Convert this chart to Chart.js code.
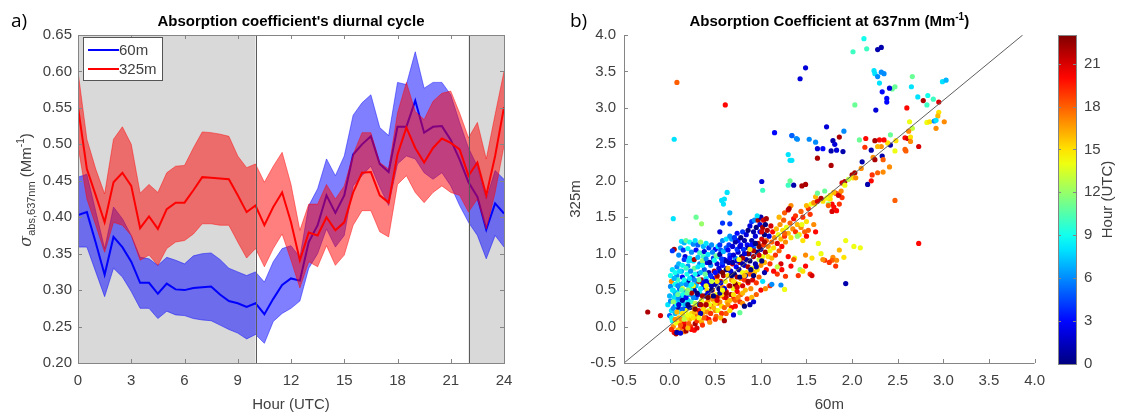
<!DOCTYPE html>
<html>
<head>
<meta charset="utf-8">
<script src="https://cdn.jsdelivr.net/npm/chart.js@4.4.1/dist/chart.umd.min.js"></script>
<style>
  body { margin: 0; background: #fff; }
  #wrap { position: relative; width: 1121px; height: 417px; overflow: hidden; }
  canvas { position: absolute; top: 0; }
</style>
</head>
<body>
<div id="wrap">
  <canvas id="diurnal" width="545" height="417" style="left:0"></canvas>
  <canvas id="scatter" width="494" height="417" style="left:560px"></canvas>
  <canvas id="cbar" width="81" height="417" style="left:1040px"></canvas>
</div>
<script>
// ---- panel a) diurnal cycle, half-hourly ----
const hours = [0,0.5,1,1.5,2,2.5,3,3.5,4,4.5,5,5.5,6,6.5,7,7.5,8,8.5,9,9.5,10,10.5,11,11.5,12,
  12.5,13,13.5,14,14.5,15,15.5,16,16.5,17,17.5,18,18.5,19,19.5,20,20.5,21,21.5,22,22.5,23,23.5,24];

const mean60 = [0.403,0.407,0.365,0.321,0.373,0.359,0.339,0.310,0.310,0.295,0.309,0.301,0.300,0.303,0.304,0.305,
  0.294,0.285,0.282,0.277,0.282,0.267,0.288,0.307,0.316,0.313,0.366,0.389,0.430,0.406,0.430,0.486,0.500,0.511,
  0.473,0.462,0.524,0.524,0.560,0.516,0.524,0.525,0.506,0.479,0.448,0.428,0.383,0.419,0.405];
const upper60 = [0.455,0.459,0.408,0.357,0.414,0.398,0.375,0.345,0.343,0.334,0.345,0.341,0.336,0.347,0.350,0.351,
  0.342,0.330,0.325,0.320,0.325,0.311,0.339,0.357,0.361,0.345,0.416,0.439,0.480,0.457,0.484,0.540,0.557,0.568,
  0.523,0.512,0.585,0.582,0.627,0.577,0.585,0.585,0.568,0.530,0.495,0.470,0.425,0.464,0.452];
const lower60 = [0.359,0.359,0.325,0.291,0.330,0.318,0.298,0.275,0.275,0.261,0.271,0.266,0.265,0.261,0.259,0.258,
  0.252,0.246,0.241,0.233,0.239,0.227,0.257,0.268,0.275,0.285,0.330,0.350,0.384,0.359,0.375,0.443,0.457,0.470,
  0.441,0.416,0.473,0.484,0.480,0.461,0.452,0.461,0.443,0.416,0.393,0.375,0.343,0.375,0.359];

const mean325 = [0.551,0.466,0.430,0.393,0.448,0.461,0.443,0.385,0.401,0.384,0.411,0.420,0.420,0.437,0.455,0.454,
  0.453,0.452,0.430,0.407,0.416,0.389,0.414,0.434,0.393,0.341,0.379,0.375,0.400,0.382,0.393,0.434,0.461,0.462,
  0.430,0.420,0.486,0.523,0.495,0.475,0.495,0.508,0.502,0.493,0.457,0.475,0.430,0.484,0.551];
const upper325 = [0.600,0.507,0.466,0.432,0.507,0.524,0.500,0.433,0.445,0.434,0.461,0.470,0.471,0.495,0.517,0.516,
  0.514,0.511,0.484,0.468,0.473,0.448,0.470,0.489,0.445,0.382,0.418,0.418,0.445,0.425,0.443,0.486,0.516,0.516,
  0.475,0.466,0.543,0.585,0.545,0.534,0.559,0.570,0.573,0.543,0.509,0.530,0.480,0.541,0.600];
const lower325 = [0.498,0.425,0.389,0.352,0.393,0.389,0.375,0.341,0.348,0.334,0.357,0.366,0.368,0.377,0.391,0.391,
  0.389,0.389,0.366,0.344,0.357,0.332,0.357,0.377,0.341,0.303,0.339,0.332,0.361,0.334,0.348,0.389,0.409,0.409,
  0.380,0.373,0.445,0.457,0.434,0.420,0.434,0.443,0.434,0.430,0.407,0.425,0.384,0.434,0.498];

// night shading (hours)
const shadeStart = [0, 22];
const shadeEnd = [10, 24];

// ---- panel b) scatter: [60m, 325m, hour] ----
const farPoints = [
  [-0.24,0.20,22],[-0.10,0.15,21],[0.08,3.35,18],[0.61,3.04,20],[0.05,2.57,8],[0.04,1.48,8],[0.05,1.06,22],
  [0.03,1.04,4],[0.29,1.50,11],[0.35,1.41,12],[0.63,1.84,8],[0.57,1.73,8],[0.60,1.75,8],[0.59,1.68,8],
  [0.66,1.56,7],[0.58,1.42,4],[0.66,1.41,4],[0.55,1.30,2],[0.71,1.22,4],[1.01,1.99,2],[1.02,1.87,10],
  [1.15,2.66,3],[1.43,3.40,2],[1.49,3.55,2],[1.34,2.62,6],[1.39,2.58,6],[1.53,2.57,6],[1.60,2.53,6],
  [1.30,2.36,8],[1.32,2.28,8],[1.34,2.28,8],[1.32,2.00,11],[1.36,1.94,1],[1.45,1.93,22],[1.49,1.95,22],
  [1.31,1.62,22],[1.62,1.83,11],[1.93,0.59,1],[1.26,0.51,14],[1.22,0.57,6],[1.40,2.57,6],[1.34,2.62,5],
  [2.13,3.95,9],[2.01,3.77,10],[2.16,3.81,10],[2.28,3.80,1],[2.32,3.83,1],[2.24,3.51,8],[2.25,3.47,8],
  [2.32,3.49,6],[2.35,3.47,6],[2.28,3.43,6],[2.30,3.34,8],[2.66,3.43,11],[2.65,3.29,8],[2.47,3.29,11],
  [2.44,3.26,11],[2.41,3.27,2],[2.33,3.22,3],[2.38,3.13,3],[2.38,3.08,3],[2.26,2.97,2],[2.03,3.04,11],
  [2.99,3.36,8],[3.03,3.38,7],[2.72,3.15,8],[2.83,3.17,9],[2.78,3.10,22],[2.89,3.12,10],[2.82,3.04,10],
  [2.95,3.08,21],[2.60,3.00,20],[2.73,1.14,20],[2.47,1.73,18],[1.72,2.74,2],[1.86,2.60,22],[1.91,2.68,6],
  [1.79,2.55,1],[1.81,2.50,2],[1.77,2.41,1],[1.83,2.42,2],[1.90,2.40,1],[1.62,2.44,2],[1.68,2.44,3],
  [1.62,2.31,22],[1.77,2.21,22]
];
const midPoints = [
  [2.95,2.94,15],[2.94,2.89,16],[2.82,2.80,14],[2.85,2.81,15],[2.90,2.82,6],[2.92,2.83,8],[3.01,2.81,17],
  [2.92,2.72,17],[2.63,2.81,14],[2.66,2.72,13],[2.62,2.68,17],[2.58,2.59,20],[2.61,2.58,21],[2.64,2.60,15],
  [2.64,2.54,17],[2.73,2.47,21],[2.58,2.43,18],[2.59,2.41,18],[2.42,2.63,11],[2.48,2.55,15],[2.42,2.49,1],
  [2.39,2.52,15],[2.35,2.56,20],[2.30,2.56,20],[2.25,2.55,22],[2.32,2.47,17],[2.28,2.47,16],[2.15,2.58,20],
  [2.08,2.56,11],[2.14,2.46,19],[2.21,2.42,1],[2.33,2.34,1],[2.47,2.41,14],[2.23,2.32,17],[2.25,2.29,22],
  [2.34,2.29,18],[2.11,2.26,1],[2.10,2.17,17],[2.22,2.08,19],[2.28,2.11,18],[2.34,2.12,17],[2.41,2.19,17],
  [2.03,2.11,22],[2.00,2.08,22],[2.01,2.04,15],[2.21,2.00,20],[2.17,1.95,1],[1.92,1.99,22],[1.89,1.97,21],
  [1.30,1.94,10],[1.59,1.68,14],[1.82,1.83,19],[1.86,1.82,18],[1.89,1.77,19],[1.78,1.68,20],[1.85,1.80,21],
  [1.76,1.75,15],[1.73,1.77,14],[1.83,1.59,20],[1.74,1.68,12],[1.68,1.72,15],[1.72,1.76,14],[1.76,1.80,15],
  [1.80,1.84,16],[1.88,1.86,17],[1.92,1.94,14],[1.96,2.02,13],[2.04,2.04,17],[1.74,1.66,18],[1.80,1.64,20],
  [1.86,1.68,19],[1.78,1.58,21],[1.70,1.86,11],
  [1.93,1.18,14],[2.02,1.10,14],[2.09,1.08,14],[1.86,1.05,16],[1.91,0.95,15],[1.79,0.95,17],[1.83,0.91,17],
  [1.78,0.91,18],[1.70,0.91,19],[1.75,0.88,19],[1.82,0.83,19],[1.66,1.00,14],[1.63,1.14,14],
  [1.18,0.72,19],[1.14,0.76,20],[1.23,0.78,20],[1.27,0.69,19],[1.33,0.83,20],[1.41,0.70,19],[1.37,0.94,14],
  [1.49,0.83,20],[1.54,0.72,19],[1.56,0.70,21],[1.49,0.98,17],[1.56,0.94,15],[1.43,0.78,12],[1.68,0.92,17],
  [1.26,1.28,18],[1.30,0.96,20],[1.36,0.92,18],[1.22,0.86,21],[1.18,0.82,13],[1.12,0.58,6],[1.46,0.76,15],
  [1.20,1.50,16],[1.26,1.56,18],[1.30,1.60,21],[1.33,1.66,17],[1.38,1.52,19],[1.44,1.58,18],[1.50,1.66,16],
  [1.55,1.68,14],[1.58,1.70,17],[1.62,1.72,21],[1.60,1.78,16],[1.66,1.76,22],[1.54,1.54,19],[1.40,1.24,12],
  [1.46,1.18,15],[1.50,1.24,20],[1.52,1.32,18],[1.58,1.40,17],[1.60,1.30,20],[1.45,1.40,14]
];
const edgePoints = [
  [0.13,1.17,8],[0.16,1.15,7],[0.18,1.18,11],[0.22,1.16,9],[0.26,1.13,6],[0.28,1.18,8],[0.31,1.12,5],
  [0.34,1.16,12],[0.37,1.10,7],[0.40,1.14,8],[0.43,1.08,4],[0.46,1.12,6],[0.50,1.06,3],[0.53,1.10,8],
  [0.56,1.05,5],[0.12,1.08,7],[0.15,1.05,4],[0.20,1.07,9],[0.24,1.02,6],[0.29,1.05,3],[0.33,1.01,10],
  [0.38,1.03,2],[0.42,0.99,8],[0.47,1.02,6],[0.51,0.97,11],[0.55,0.99,1],[0.59,1.03,7],[0.62,1.08,5],
  [0.65,1.12,4],[0.68,1.20,6],[0.71,1.22,7],[0.75,1.18,3],[0.10,0.98,6],[0.17,0.96,2],[0.22,0.94,8],
  [0.27,0.92,22],[0.31,0.95,7],[0.36,0.90,12],[0.40,0.93,6],[0.44,0.88,1],[0.49,0.91,9],[0.57,0.93,4],
  [0.01,0.70,9],[0.03,0.78,8],[0.05,0.66,7],[0.06,0.74,9],[0.08,0.82,6],[0.10,0.86,7],[0.11,0.76,8],
  [0.14,0.84,9],[0.16,0.92,4],[0.18,0.80,10],[0.21,0.90,8],[0.23,0.76,6],[0.06,0.58,9],[0.04,0.50,8],
  [0.09,0.56,6],[0.13,0.50,10],[0.16,0.64,9],[0.19,0.46,11],[0.22,0.66,8],[0.24,0.58,9],[0.27,0.64,6],
  [0.28,0.72,9],[0.31,0.82,8],[0.34,0.74,7],[0.36,0.84,9],[0.39,0.72,11],
  [0.55,1.12,4],[0.58,1.18,6],[0.62,1.20,8],[0.64,1.05,3],[0.66,1.24,6],[0.69,1.10,2],[0.72,1.16,1],
  [0.74,1.28,3],[0.77,1.10,2],[0.78,1.22,0],[0.80,1.30,4],[0.82,1.18,1],[0.84,1.26,2],[0.86,1.32,0],
  [0.88,1.38,2],[0.90,1.44,4],[0.92,1.30,1],[0.93,1.46,6],[0.95,1.36,0],[0.97,1.46,22],[0.99,1.40,2],
  [1.00,1.50,1],[1.02,1.36,22],[1.03,1.46,21],[1.05,1.40,0],[1.06,1.48,22],[0.96,1.52,8],[1.01,1.30,21],
  [0.44,0.06,17],[0.50,0.10,19],[0.56,0.12,16],[0.62,0.18,18],[0.66,0.22,15],[0.72,0.28,20],[0.77,0.19,11],
  [0.80,0.32,17],[0.85,0.38,19],[0.90,0.40,16],[0.95,0.44,18],[1.00,0.50,20],[1.05,0.52,17],[1.10,0.56,19],
  [0.88,0.30,1],[0.60,0.08,22],[0.70,0.16,2],[0.92,0.34,2],[0.82,0.28,0],
  [0.08,-0.08,1],[0.12,-0.09,2],[0.18,-0.06,22],[0.20,-0.02,16],[0.27,-0.05,20],[0.30,-0.02,21],[0.36,0.02,19]
];
const corePoints = [
  [-0.02,0.30,8],[0.00,0.42,7],[0.01,0.55,6],[0.02,0.62,17],[0.03,0.50,9],[0.01,0.35,6],[0.02,0.22,8],
  [0.00,0.15,5],[0.03,0.08,9],[0.04,0.00,17],[0.02,-0.04,19],[0.05,-0.08,20],[0.07,-0.10,22],[0.05,0.40,8],
  [0.06,0.28,4],[0.06,0.18,7],[0.07,0.58,8],[0.08,0.47,9],[0.08,0.70,6],[0.09,0.64,10],[0.09,0.36,7],
  [0.10,0.24,1],[0.10,0.12,16],[0.11,0.05,15],[0.12,-0.02,18],[0.11,0.52,5],[0.12,0.42,8],[0.13,0.32,9],
  [0.13,0.76,7],[0.14,0.68,3],[0.15,0.60,8],[0.15,0.15,12],[0.16,0.05,20],[0.16,-0.07,17],[0.17,0.48,6],
  [0.17,0.38,9],[0.18,0.28,2],[0.18,0.22,14],[0.19,0.72,9],[0.20,0.83,6],[0.20,0.62,1],[0.21,0.55,8],
  [0.22,0.44,7],[0.22,0.10,16],[0.23,0.00,19],[0.24,0.34,10],[0.24,0.18,15],[0.25,0.68,4],[0.25,0.26,17],
  [0.26,0.90,8],[0.27,0.80,11],[0.27,0.50,1],[0.28,0.04,22],[0.29,0.40,5],[0.29,0.14,18],[0.30,0.60,7],
  [0.30,0.30,15],[0.31,0.72,2],[0.32,0.22,20],[0.33,0.86,6],[0.33,0.46,9],[0.34,0.08,17],[0.35,0.36,14],
  [0.35,0.64,22],[0.36,0.18,16],[0.37,0.54,3],[0.37,0.96,10],[0.38,0.78,5],[0.38,0.28,19],[0.39,0.42,1],
  [0.40,0.12,21],[0.40,0.66,8],[0.41,0.88,2],[0.41,0.50,15],[0.42,0.34,17],[0.43,0.74,1],[0.43,0.22,14],
  [0.44,0.58,22],[0.45,0.42,16],[0.45,0.84,6],[0.46,0.28,20],[0.47,0.66,3],[0.47,0.50,18],[0.48,0.94,4],
  [0.48,0.36,15],[0.49,0.76,22],[0.50,0.58,1],[0.50,0.22,17],[0.51,0.44,14],[0.52,0.86,2],[0.52,0.68,19],
  [0.53,0.32,18],[0.54,0.52,0],[0.54,0.96,9],[0.55,0.76,1],[0.56,0.42,16],[0.56,0.62,21],[0.57,0.28,15],
  [0.58,0.84,3],[0.58,0.54,17],[0.59,0.70,22],[0.60,0.40,19],[0.60,0.92,2],[0.61,0.62,14],[0.62,0.78,0],
  [0.62,0.48,20],[0.63,0.34,16],[0.64,0.70,15],[0.65,0.88,1],[0.65,0.56,18],[0.66,0.98,4],[0.67,0.44,22],
  [0.67,0.76,2],[0.68,0.64,17],[0.69,0.86,21],[0.70,0.52,14],[0.70,0.38,19],[0.71,0.72,0],[0.72,0.94,6],
  [0.72,0.60,16],[0.73,0.82,3],[0.74,0.48,20],[0.74,0.68,22],[0.75,1.02,2],[0.76,0.78,1],[0.76,0.58,15],
  [0.77,0.88,22],[0.78,0.66,17],[0.78,0.44,18],[0.79,0.96,0],[0.80,0.74,14],[0.80,0.56,21],[0.81,1.06,4],
  [0.82,0.84,2],[0.82,0.64,19],[0.83,0.50,16],[0.84,0.92,1],[0.84,0.74,15],[0.85,1.12,3],[0.86,0.82,22],
  [0.86,0.60,20],[0.87,1.00,2],[0.88,0.72,18],[0.88,0.90,0],[0.89,0.52,17],[0.90,1.18,1],[0.90,0.80,14],
  [0.91,0.64,21],[0.92,1.08,5],[0.92,0.96,22],[0.93,0.74,16],[0.94,0.86,1],[0.94,1.24,2],[0.95,0.60,19],
  [0.96,1.02,0],[0.96,0.78,15],[0.97,1.14,22],[0.98,0.92,13],[0.98,0.68,18],[0.99,1.30,3],[1.00,1.06,1],
  [1.00,0.84,17],[1.01,1.20,21],[1.02,0.96,14],[1.02,0.62,8],[1.03,1.12,19],[1.04,1.26,0],[1.04,0.88,16],
  [1.05,1.02,22],[1.06,1.18,18],[1.06,0.78,20],[1.07,1.32,22],[1.08,0.96,15],[1.08,1.10,17],[1.09,1.24,2],
  [1.10,0.86,19],[1.10,1.04,14],[1.11,1.38,21],[1.12,1.16,18],[1.12,0.94,16],[1.13,1.30,20],[1.14,1.08,15],
  [1.15,1.22,17],[1.16,0.98,19],[1.17,1.34,16],[1.18,1.14,21],[1.19,1.26,14],[1.20,1.04,18],[1.21,1.40,17],
  [1.22,1.20,16],[1.23,1.10,20],[1.24,1.32,15],[1.25,1.46,18],[1.26,1.24,19],[1.27,1.16,17],[1.28,1.36,14],
  [1.30,1.28,16],[1.32,1.42,18],[1.33,1.22,15],[1.35,1.34,17],[1.36,1.48,20],[1.38,1.30,19],[1.40,1.40,16],
  [1.42,1.26,15],[1.44,1.36,17],[1.46,1.50,19],[1.48,1.30,18],[1.50,1.44,15],[1.52,1.62,19],
  [0.02,0.12,9],[0.04,0.25,6],[0.05,0.34,8],[0.06,0.46,7],[0.07,0.05,14],[0.08,0.30,9],[0.09,-0.05,16],
  [0.10,0.40,6],[0.11,0.20,8],[0.12,0.58,7],[0.13,0.10,17],[0.14,0.24,5],[0.15,0.44,9],[0.16,0.00,21],
  [0.17,0.30,7],[0.18,0.58,6],[0.19,0.12,15],[0.20,0.36,8],[0.21,0.04,18],[0.22,0.26,1],[0.23,0.52,9],
  [0.24,-0.04,20],[0.25,0.14,14],[0.26,0.40,6],[0.27,0.20,16],[0.28,0.32,13],[0.29,0.56,7],[0.30,0.08,19],
  [0.31,0.44,2],[0.32,0.16,17],[0.33,0.30,1],[0.34,0.52,8],[0.35,0.06,16],[0.36,0.42,22],[0.37,0.24,15],
  [0.38,0.12,18],[0.39,0.60,6],[0.40,0.32,16],[0.41,0.20,17],[0.42,0.46,2],[0.43,0.10,20],[0.44,0.30,14],
  [0.45,0.18,19],[0.46,0.56,1],[0.47,0.38,17],[0.48,0.26,16],[0.50,0.32,15],[0.51,0.14,18],[0.52,0.40,22],
  [0.53,0.22,14],[0.55,0.34,17],[0.57,0.18,19],[0.58,0.44,15],[0.60,0.26,18],[0.62,0.40,21],[0.64,0.30,17],
  [0.66,0.36,16],[0.68,0.26,20],[0.70,0.44,15],[0.72,0.36,18],[0.75,0.40,17],[0.77,0.34,19],[0.80,0.46,16]
];
const mixPoints = [
  [0.30,0.46,0],[0.34,0.30,22],[0.38,0.58,1],[0.42,0.40,23],[0.44,0.60,2],[0.48,0.42,0],[0.52,0.70,22],
  [0.55,0.46,1],[0.58,0.74,23],[0.60,0.52,2],[0.63,0.80,0],[0.66,0.56,22],[0.69,0.88,1],[0.72,0.58,23],
  [0.74,0.90,2],[0.77,0.68,0],[0.80,0.94,22],[0.83,0.70,1],[0.86,1.00,23],[0.89,0.78,0],[0.92,1.04,22],
  [0.95,0.82,1],[0.98,1.10,23],[1.01,0.90,0],[1.04,1.16,22],[0.36,0.60,3],[0.40,0.62,2],[0.45,0.70,4],
  [0.50,0.74,3],[0.54,0.80,2],[0.58,0.88,4],[0.62,0.90,1],[0.66,0.94,3],[0.70,0.98,2],[0.74,1.06,4],
  [0.78,1.12,3],[0.82,1.00,2],[0.86,1.08,1],[0.90,1.12,3],[0.94,1.14,0],[0.20,0.30,0],[0.24,0.46,22],
  [0.18,0.40,3],[0.14,0.36,1],[0.10,0.30,2],[0.26,0.56,0],[0.32,0.62,21],[0.28,0.24,23],[0.34,0.18,1],
  [0.40,0.30,22],[0.46,0.50,0],[0.52,0.36,21],[0.56,0.60,2],[0.62,0.46,22],[0.68,0.70,0],[0.74,0.54,21],
  [0.80,0.86,1],[0.86,0.62,22],[0.92,0.70,0],[0.98,0.98,21],[1.04,0.74,1],[0.08,0.20,16],[0.14,0.18,15],
  [0.20,0.16,14],[0.26,0.12,15],[0.32,0.12,14],[0.16,0.10,13],[0.06,0.10,17],[0.12,0.02,18],[0.04,0.34,12],
  [0.09,0.44,11],[0.14,0.52,13],[0.20,0.50,12],[0.26,0.56,14],[0.32,0.64,11],[0.40,0.56,14],[0.46,0.62,13],
  [0.52,0.62,15],[0.58,0.50,14],[0.64,0.80,16],[0.70,0.62,15],[0.76,0.92,14],[0.82,0.70,16],[0.88,1.06,15]
];

// diagonal reference line (as drawn in the figure)
const refLineX = [-0.5, 3.87];
const refLineY = [-0.5, 4.0];

// colour bar
const hourMax = 23;
const hourTicks = [0, 3, 6, 9, 12, 15, 18, 21];

const FONT = "'Liberation Sans', Arial, sans-serif";
const TXT = '#404040';
const AXIS = '#858585';

Chart.defaults.font.family = FONT;
Chart.defaults.font.size = 15;
Chart.defaults.color = TXT;

function jet(h) {
  const t = h / hourMax;
  const c = v => Math.round(255 * Math.max(0, Math.min(1, v)));
  return 'rgb(' + c(1.5 - Math.abs(4 * t - 3)) + ',' + c(1.5 - Math.abs(4 * t - 2)) + ',' + c(1.5 - Math.abs(4 * t - 1)) + ')';
}

function drawRich(ctx, parts, x, y, center) {
  let w = 0;
  parts.forEach(p => { ctx.font = p[1]; w += ctx.measureText(p[0]).width; });
  let cx = center ? x - w / 2 : x;
  ctx.textAlign = 'left';
  ctx.textBaseline = 'alphabetic';
  parts.forEach(p => { ctx.font = p[1]; ctx.fillText(p[0], cx, y + p[2]); cx += ctx.measureText(p[0]).width; });
}

// inward ticks + frame
function innerTicks(chart, box) {
  const {ctx, chartArea: a, scales: {x, y}} = chart;
  ctx.save();
  ctx.strokeStyle = AXIS;
  ctx.lineWidth = 1;
  ctx.beginPath();
  x.ticks.forEach(t => {
    const px = Math.round(x.getPixelForValue(t.value)) + 0.5;
    ctx.moveTo(px, a.bottom); ctx.lineTo(px, a.bottom - 4);
    if (box) { ctx.moveTo(px, a.top); ctx.lineTo(px, a.top + 4); }
  });
  y.ticks.forEach(t => {
    const py = Math.round(y.getPixelForValue(t.value)) + 0.5;
    ctx.moveTo(a.left, py); ctx.lineTo(a.left + 4, py);
    if (box) { ctx.moveTo(a.right, py); ctx.lineTo(a.right - 4, py); }
  });
  ctx.stroke();
  if (box) {
    ctx.strokeRect(Math.round(a.left) + 0.5, Math.round(a.top) + 0.5, Math.round(a.right - a.left), Math.round(a.bottom - a.top));
  } else {
    ctx.beginPath();
    ctx.moveTo(Math.round(a.left) + 0.5, a.top);
    ctx.lineTo(Math.round(a.left) + 0.5, a.bottom + 0.5);
    ctx.lineTo(a.right, a.bottom + 0.5);
    ctx.stroke();
  }
  ctx.restore();
}

const nightShade = {
  id: 'nightShade',
  beforeDatasetsDraw(chart) {
    const {ctx, chartArea: a, scales: {x}} = chart;
    ctx.save();
    ctx.fillStyle = '#d9d9d9';
    shadeStart.forEach((s, i) => {
      const x0 = x.getPixelForValue(s), x1 = x.getPixelForValue(shadeEnd[i]);
      ctx.fillRect(x0, a.top, x1 - x0, a.bottom - a.top);
    });
    ctx.restore();
  },
  afterDatasetsDraw(chart) {
    const {ctx, chartArea: a, scales: {x}} = chart;
    ctx.save();
    ctx.strokeStyle = '#5a5a5a';
    ctx.lineWidth = 1;
    ctx.beginPath();
    [shadeEnd[0], shadeStart[1]].forEach(v => {
      const px = Math.round(x.getPixelForValue(v)) + 0.5;
      ctx.moveTo(px, a.top); ctx.lineTo(px, a.bottom);
    });
    ctx.stroke();
    ctx.restore();
  }
};

const panelA = {
  id: 'panelA',
  afterDraw(chart) {
    const {ctx, chartArea: a} = chart;
    innerTicks(chart, true);
    ctx.save();
    ctx.fillStyle = '#000';
    ctx.font = '19px "Open Sans", sans-serif';
    ctx.fillText('a)', 11, 27);
    drawRich(ctx, [["Absorption coefficient's diurnal cycle", 'bold 15px ' + FONT, 0]], (a.left + a.right) / 2, 26, true);
    // legend box
    ctx.fillStyle = '#fff';
    ctx.fillRect(83.5, 37.5, 79, 43);
    ctx.strokeStyle = '#555';
    ctx.lineWidth = 1;
    ctx.strokeRect(83.5, 37.5, 79, 43);
    const items = [['60m', '#0000ff'], ['325m', '#ff0000']];
    items.forEach((it, i) => {
      const yy = 50 + i * 19;
      ctx.strokeStyle = it[1];
      ctx.lineWidth = 2;
      ctx.beginPath(); ctx.moveTo(88, yy); ctx.lineTo(119, yy); ctx.stroke();
      ctx.fillStyle = TXT;
      ctx.font = '15px ' + FONT;
      ctx.textBaseline = 'middle';
      ctx.fillText(it[0], 119, yy + 1);
    });
    // y axis title with sub/superscript
    ctx.translate(31, 190);
    ctx.rotate(-Math.PI / 2);
    ctx.fillStyle = TXT;
    drawRich(ctx, [
      ['\u03c3', 'italic 16px "DejaVu Serif", serif', 0],
      ['abs,637nm', '11px ' + FONT, 4],
      [' (Mm', '15px ' + FONT, 0],
      ['-1', '10px ' + FONT, -7],
      [')', '15px ' + FONT, 0]
    ], 0, 0, true);
    ctx.restore();
  }
};

const panelB = {
  id: 'panelB',
  afterDraw(chart) {
    const {ctx, chartArea: a} = chart;
    innerTicks(chart, false);
    ctx.save();
    ctx.fillStyle = '#000';
    ctx.font = '19px "Open Sans", sans-serif';
    ctx.fillText('b)', 10, 27);
    drawRich(ctx, [
      ['Absorption Coefficient at 637nm (Mm', 'bold 15px ' + FONT, 0],
      ['-1', 'bold 10px ' + FONT, -6],
      [')', 'bold 15px ' + FONT, 0]
    ], (a.left + a.right) / 2, 26, true);
    ctx.restore();
  }
};

const colorRamp = {
  id: 'colorRamp',
  beforeDatasetsDraw(chart) {
    const {ctx, chartArea: a, scales: {y}} = chart;
    const g = ctx.createLinearGradient(0, y.getPixelForValue(0), 0, y.getPixelForValue(hourMax));
    for (let h = 0; h <= hourMax; h++) g.addColorStop(h / hourMax, jet(h));
    ctx.save();
    ctx.fillStyle = g;
    ctx.fillRect(a.left, a.top, a.right - a.left, a.bottom - a.top);
    ctx.strokeStyle = AXIS;
    ctx.lineWidth = 1;
    ctx.strokeRect(Math.round(a.left) + 0.5, Math.round(a.top) + 0.5, Math.round(a.right - a.left), Math.round(a.bottom - a.top));
    ctx.beginPath();
    y.ticks.forEach(t => {
      const py = Math.round(y.getPixelForValue(t.value)) + 0.5;
      ctx.moveTo(a.right, py); ctx.lineTo(a.right - 3, py);
      ctx.moveTo(a.left, py); ctx.lineTo(a.left + 3, py);
    });
    ctx.stroke();
    ctx.translate(a.right + 32, (a.top + a.bottom) / 2);
    ctx.rotate(-Math.PI / 2);
    ctx.fillStyle = TXT;
    ctx.font = '15px ' + FONT;
    ctx.textAlign = 'center';
    ctx.textBaseline = 'middle';
    ctx.fillText('Hour (UTC)', 0, 0);
    ctx.restore();
  }
};

function xy(xs, ys) { return xs.map((v, i) => ({x: v, y: ys[i]})); }

new Chart(document.getElementById('diurnal'), {
  type: 'line',
  data: {
    datasets: [
      {label: '60m low', data: xy(hours, lower60), borderColor: 'rgba(0,0,255,0.45)', borderWidth: 1, fill: false, order: 6},
      {label: '60m high', data: xy(hours, upper60), borderColor: 'rgba(0,0,255,0.45)', borderWidth: 1,
        fill: '-1', backgroundColor: 'rgba(0,0,255,0.5)', order: 6},
      {label: '325m low', data: xy(hours, lower325), borderColor: 'rgba(255,0,0,0.45)', borderWidth: 1, fill: false, order: 4},
      {label: '325m high', data: xy(hours, upper325), borderColor: 'rgba(255,0,0,0.45)', borderWidth: 1,
        fill: '-1', backgroundColor: 'rgba(255,0,0,0.5)', order: 4},
      {label: '60m', data: xy(hours, mean60), borderColor: '#0000ff', borderWidth: 2, fill: false, order: 5},
      {label: '325m', data: xy(hours, mean325), borderColor: '#ff0000', borderWidth: 2, fill: false, order: 3}
    ]
  },
  options: {
    responsive: false,
    animation: false,
    layout: {padding: {left: 0, right: 41, top: 35, bottom: 0}},
    elements: {point: {radius: 0}, line: {tension: 0}},
    plugins: {legend: {display: false}, tooltip: {enabled: false}},
    scales: {
      x: {
        type: 'linear', min: 0, max: 24,
        afterFit: s => { s.height = 54; },
        grid: {display: false, drawTicks: false},
        border: {display: false},
        ticks: {stepSize: 3, padding: 9, maxRotation: 0},
        title: {display: true, text: 'Hour (UTC)', padding: {top: 0, bottom: 3}}
      },
      y: {
        min: 0.2, max: 0.65,
        afterFit: s => { s.width = 78; },
        grid: {display: false, drawTicks: false},
        border: {display: false},
        ticks: {stepSize: 0.05, padding: 6, callback: v => v.toFixed(2)}
      }
    }
  },
  plugins: [nightShade, panelA]
});

const allPoints = corePoints.concat(mixPoints, edgePoints, midPoints, farPoints);

new Chart(document.getElementById('scatter'), {
  type: 'scatter',
  data: {
    datasets: [
      {label: 'ref', data: xy(refLineX, refLineY), showLine: true, borderColor: '#5e5e5e', borderWidth: 1,
        pointRadius: 0, order: 0},
      {label: 'obs', data: allPoints.map(p => ({x: p[0], y: p[1]})),
        pointRadius: 2.6, pointBorderWidth: 0,
        pointBackgroundColor: allPoints.map(p => jet(p[2])), order: 1}
    ]
  },
  options: {
    responsive: false,
    animation: false,
    layout: {padding: {left: 0, right: 0, top: 35, bottom: 0}},
    plugins: {legend: {display: false}, tooltip: {enabled: false}},
    scales: {
      x: {
        min: -0.5, max: 4.0,
        afterFit: s => { s.height = 54; },
        grid: {display: false, drawTicks: false},
        border: {display: false},
        ticks: {stepSize: 0.5, padding: 9, maxRotation: 0, callback: v => v.toFixed(1)},
        title: {display: true, text: '60m', padding: {top: 0, bottom: 3}}
      },
      y: {
        min: -0.5, max: 4.0,
        afterFit: s => { s.width = 64; },
        grid: {display: false, drawTicks: false},
        border: {display: false},
        ticks: {stepSize: 0.5, padding: 8, callback: v => v.toFixed(1)},
        title: {display: true, text: '325m', padding: {top: 7, bottom: 0}}
      }
    }
  },
  plugins: [panelB]
});

new Chart(document.getElementById('cbar'), {
  type: 'scatter',
  data: {datasets: []},
  options: {
    responsive: false,
    animation: false,
    layout: {padding: {left: 18, right: 0, top: 35, bottom: 53}},
    plugins: {legend: {display: false}, tooltip: {enabled: false}},
    scales: {
      x: {display: false, min: 0, max: 1},
      y: {
        position: 'right', min: 0, max: hourMax,
        afterFit: s => { s.width = 45; },
        afterBuildTicks: s => { s.ticks = hourTicks.map(v => ({value: v})); },
        grid: {display: false, drawTicks: false},
        border: {display: false},
        ticks: {padding: 8}
      }
    }
  },
  plugins: [colorRamp]
});
</script>
</body>
</html>
